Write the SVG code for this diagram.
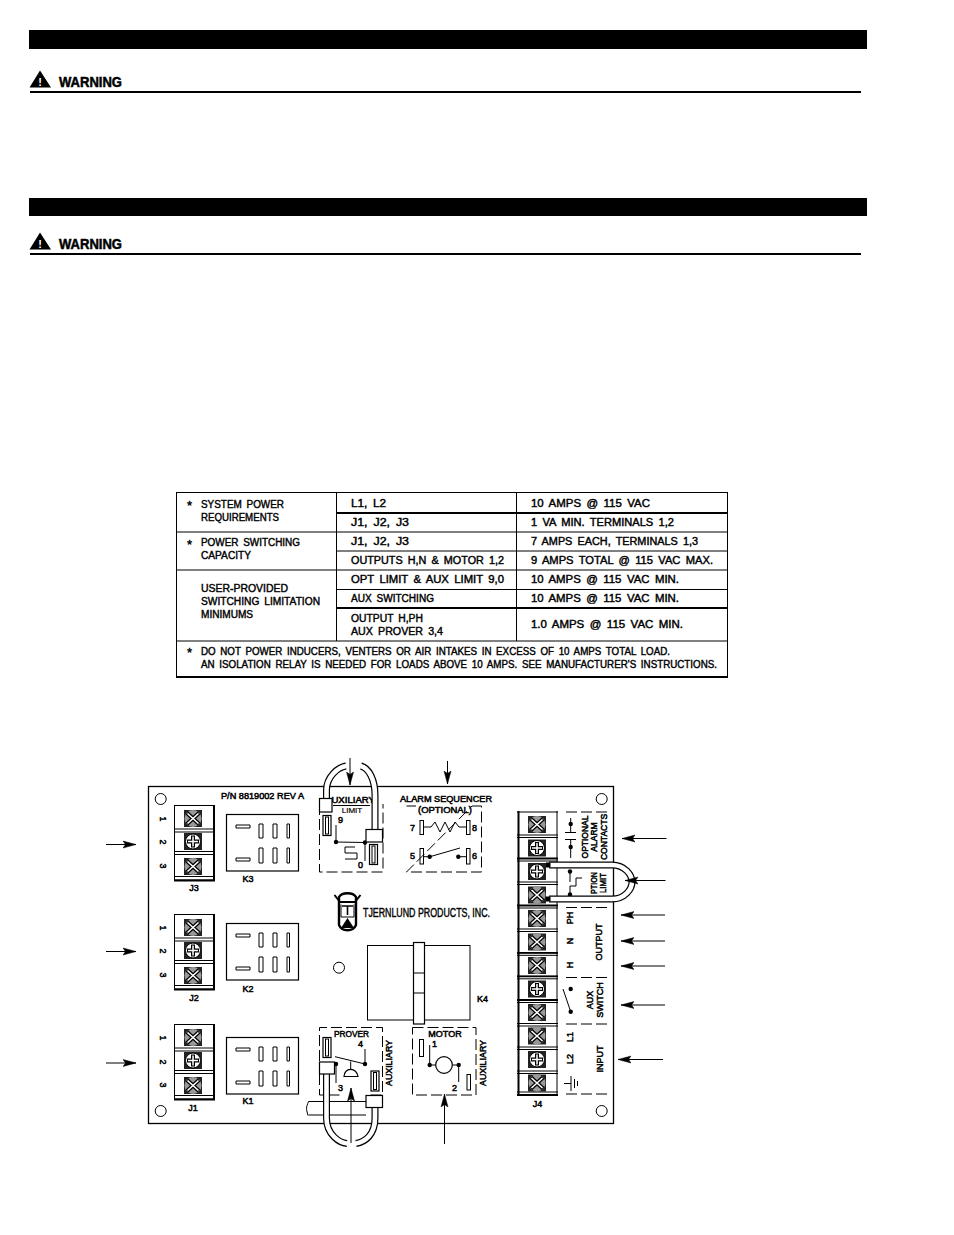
<svg xmlns="http://www.w3.org/2000/svg" xmlns:xlink="http://www.w3.org/1999/xlink" width="954" height="1235" viewBox="0 0 954 1235">
<style>
text{font-family:"Liberation Sans",Arial,sans-serif;fill:#000;font-size:10px;stroke:#000;stroke-width:.4px}
.b{font-weight:700;stroke:none}
.w{font-size:14px;font-weight:700;stroke:#000;stroke-width:.5px}
.s{font-size:9px;stroke-width:.5px}
.m{text-anchor:middle}
.ln{fill:none;stroke:#000;stroke-width:1}
.th{fill:none;stroke:#000;stroke-width:2}
.da{fill:none;stroke:#000;stroke-width:1;stroke-dasharray:11 4}
.wb{fill:#fff;stroke:#000;stroke-width:1.2}
.ot{fill:none;stroke:#000;stroke-width:7}
.in{fill:none;stroke:#fff;stroke-width:4.6}
.ar{fill:none;stroke:#000;stroke-width:1;marker-end:url(#ah)}
#spec-table text{word-spacing:2px}
</style>
<defs>
<marker id="ah" markerUnits="userSpaceOnUse" markerWidth="14" markerHeight="10" refX="13" refY="5" orient="auto"><path d="M0 1.500L13 5L0 8.500L2.500 5Z" fill="#000" stroke="#000" stroke-width=".5"/></marker>
<g id="sx"><rect width="18" height="17" fill="#222"/><circle cx="9" cy="8.500" r="8.500" fill="#999"/><path d="M3 3L15 14M15 3L3 14" stroke="#000" stroke-width="4"/><path d="M3.500 3.500L14.500 13.500M14.500 3.500L3.500 13.500" stroke="#fff" stroke-width="1.600"/></g>
<g id="sp"><rect width="18" height="17" fill="#222"/><circle cx="9" cy="8.500" r="7.500" fill="#fff" stroke="#000"/><path d="M9 2.500V14.500M3 8.500H15" stroke="#000" stroke-width="4"/><path d="M9 3.500V13.500M4 8.500H14" stroke="#fff" stroke-width="1.500"/></g>
<g id="j3b"><path d="M0.500 0V75.500" class="ln"/><path d="M40 0V75.500" class="th"/><path d="M0 .5H41M0 24H41M0 27H41M0 46.500H41M0 49.500H41M0 71.500H41M0 75H41" class="ln"/><path d="M0 75.500H41" class="th"/><use xlink:href="#sx" x="10" y="5"/><use xlink:href="#sp" x="10" y="28"/><use xlink:href="#sx" x="10" y="53"/></g>
<g id="kb"><rect x=".5" y=".5" width="72" height="56.500" class="wb"/><path d="M10 11H24V14H10ZM10 44H24V47H10ZM33 10H37V24H33ZM47 10H51V24H47ZM61 10H63.500V24H61ZM33 34H37V49H33ZM47 34H51V49H47ZM61 34H63.500V49H61Z" class="ln"/></g>
<g id="hole"><circle r="5.500" class="ln"/></g>
<g id="dot"><circle r="2.200" fill="#000"/></g>
<g id="ft"><rect x="0" y="0" width="8" height="20" class="wb"/><rect x="2.500" y="1.500" width="3" height="17" class="ln"/></g>
</defs>
<rect width="954" height="1235" fill="#fff"/>

<g id="header-1"><rect x="29" y="30" width="838" height="19" fill="#000"/>
<path d="M40 70.500L51 87.500H29.500Z" fill="#000"/><text class="b" x="40" y="86" style="fill:#fff;font-size:11px" text-anchor="middle">!</text>
<text class="w" x="59" y="86.500" textLength="63" lengthAdjust="spacingAndGlyphs">WARNING</text>
<path d="M30 92H861" class="th"/></g>
<g id="header-2"><rect x="29" y="198" width="838" height="18" fill="#000"/>
<path d="M40 232.500L51 249.500H29.500Z" fill="#000"/><text class="b" x="40" y="248" style="fill:#fff;font-size:11px" text-anchor="middle">!</text>
<text class="w" x="59" y="248.500" textLength="63" lengthAdjust="spacingAndGlyphs">WARNING</text>
<path d="M30 254H861" class="th"/></g>

<g id="spec-table">
<rect x="176.500" y="492.500" width="551" height="184.500" class="ln"/>
<path d="M176 677H728" class="th"/>
<path d="M336.500 492V641M516.500 492V641" class="ln"/>
<path d="M176 532H728M176 570H728M336 551H728M336 589.500H728M176 641H728" class="ln"/>
<path d="M336 513H728M336 608H728" class="th"/>
<text x="187" y="510" style="font-size:13px">*</text><text x="187" y="549" style="font-size:13px">*</text><text x="187" y="657" style="font-size:13px">*</text>
<text x="201" y="508" textLength="83" lengthAdjust="spacingAndGlyphs">SYSTEM POWER</text>
<text x="201" y="521" textLength="78" lengthAdjust="spacingAndGlyphs">REQUIREMENTS</text>
<text x="201" y="546" textLength="99" lengthAdjust="spacingAndGlyphs">POWER SWITCHING</text>
<text x="201" y="559" textLength="50" lengthAdjust="spacingAndGlyphs">CAPACITY</text>
<text x="201" y="592" textLength="87" lengthAdjust="spacingAndGlyphs">USER-PROVIDED</text>
<text x="201" y="605" textLength="119" lengthAdjust="spacingAndGlyphs">SWITCHING LIMITATION</text>
<text x="201" y="618" textLength="52" lengthAdjust="spacingAndGlyphs">MINIMUMS</text>
<text x="351" y="507" textLength="35" lengthAdjust="spacingAndGlyphs">L1, L2</text>
<text x="351" y="526" textLength="58" lengthAdjust="spacingAndGlyphs">J1, J2, J3</text>
<text x="351" y="545" textLength="58" lengthAdjust="spacingAndGlyphs">J1, J2, J3</text>
<text x="351" y="564" textLength="153" lengthAdjust="spacingAndGlyphs">OUTPUTS H,N &amp; MOTOR 1,2</text>
<text x="351" y="583" textLength="153" lengthAdjust="spacingAndGlyphs">OPT LIMIT &amp; AUX LIMIT 9,0</text>
<text x="351" y="602" textLength="83" lengthAdjust="spacingAndGlyphs">AUX SWITCHING</text>
<text x="351" y="622" textLength="72" lengthAdjust="spacingAndGlyphs">OUTPUT H,PH</text>
<text x="351" y="635" textLength="92" lengthAdjust="spacingAndGlyphs">AUX PROVER 3,4</text>
<text x="531" y="507" textLength="119" lengthAdjust="spacingAndGlyphs">10 AMPS @ 115 VAC</text>
<text x="531" y="526" textLength="143" lengthAdjust="spacingAndGlyphs">1 VA MIN. TERMINALS 1,2</text>
<text x="531" y="545" textLength="167" lengthAdjust="spacingAndGlyphs">7 AMPS EACH, TERMINALS 1,3</text>
<text x="531" y="564" textLength="182" lengthAdjust="spacingAndGlyphs">9 AMPS TOTAL @ 115 VAC MAX.</text>
<text x="531" y="583" textLength="148" lengthAdjust="spacingAndGlyphs">10 AMPS @ 115 VAC MIN.</text>
<text x="531" y="602" textLength="148" lengthAdjust="spacingAndGlyphs">10 AMPS @ 115 VAC MIN.</text>
<text x="531" y="628" textLength="152" lengthAdjust="spacingAndGlyphs">1.0 AMPS @ 115 VAC MIN.</text>
<text x="201" y="655" textLength="469" lengthAdjust="spacingAndGlyphs">DO NOT POWER INDUCERS, VENTERS OR AIR INTAKES IN EXCESS OF 10 AMPS TOTAL LOAD.</text>
<text x="201" y="668" textLength="516" lengthAdjust="spacingAndGlyphs">AN ISOLATION RELAY IS NEEDED FOR LOADS ABOVE 10 AMPS.  SEE MANUFACTURER'S INSTRUCTIONS.</text>
</g>

<g id="board">
<rect x="148.500" y="786.500" width="465" height="337" class="ln" style="stroke-width:1.300"/>
<use xlink:href="#hole" x="160.700" y="799"/><use xlink:href="#hole" x="601.700" y="799"/><use xlink:href="#hole" x="160.700" y="1111"/><use xlink:href="#hole" x="601.700" y="1111"/><use xlink:href="#hole" x="339" y="967.700"/>
<text x="221" y="799" textLength="83" lengthAdjust="spacingAndGlyphs" class="s">P/N 8819002 REV A</text>
</g>

<g id="J3"><use xlink:href="#j3b" x="174" y="805"/>
<text class="s" transform="translate(160 819) rotate(90)" text-anchor="middle">1</text><text class="s" transform="translate(160 842) rotate(90)" text-anchor="middle">2</text><text class="s" transform="translate(160 866) rotate(90)" text-anchor="middle">3</text>
<text class="s m" x="194" y="891">J3</text></g>
<g id="J2"><use xlink:href="#j3b" x="174" y="914"/>
<text class="s" transform="translate(160 928) rotate(90)" text-anchor="middle">1</text><text class="s" transform="translate(160 951) rotate(90)" text-anchor="middle">2</text><text class="s" transform="translate(160 975) rotate(90)" text-anchor="middle">3</text>
<text class="s m" x="194" y="1001">J2</text></g>
<g id="J1"><use xlink:href="#j3b" x="174" y="1024"/>
<text class="s" transform="translate(160 1038) rotate(90)" text-anchor="middle">1</text><text class="s" transform="translate(160 1062) rotate(90)" text-anchor="middle">2</text><text class="s" transform="translate(160 1085) rotate(90)" text-anchor="middle">3</text>
<text class="s m" x="193" y="1111">J1</text></g>
<g id="K3"><use xlink:href="#kb" x="226" y="814"/><text class="s m" x="248" y="882">K3</text></g>
<g id="K2"><use xlink:href="#kb" x="226" y="923"/><text class="s m" x="248" y="992">K2</text></g>
<g id="K1"><use xlink:href="#kb" x="226" y="1037"/><text class="s m" x="248" y="1104">K1</text></g>

<g id="K4"><rect x="367.500" y="945.500" width="102.500" height="74.500" class="ln"/><rect x="413.500" y="942.500" width="11" height="81.500" class="wb"/><path d="M413 973H424M413 993H424" class="ln"/><text class="s" x="477" y="1002">K4</text></g>

<g id="logo">
<path d="M339 897C342 892 353 892 356 897V925C353 932 342 932 339 925Z" fill="#fff" stroke="#000" stroke-width="2.400"/>
<path d="M334.500 895L340 902H355L360.500 895" fill="none" stroke="#000" stroke-width="2"/>
<path d="M342 906H353M347.500 906V915" fill="none" stroke="#000" stroke-width="1.600"/>
<path d="M341 904.500V917H354V904.500" class="ln"/><path d="M341 928L347.500 918L354 928Z" fill="#000"/>
<text x="363" y="917" textLength="127" lengthAdjust="spacingAndGlyphs" style="font-size:12px">TJERNLUND PRODUCTS, INC.</text></g>

<g id="aux-limit">
<path d="M319.500 804V872H383V804" class="da"/><path d="M333 805.500H370" class="ln"/>
<text class="s" x="325" y="803" textLength="50" lengthAdjust="spacingAndGlyphs">AUXILIARY</text><text class="s m" x="352" y="813" style="font-size:8px;stroke-width:.2px">LIMIT</text>
<use xlink:href="#ft" x="323" y="815.500"/><use xlink:href="#ft" x="369.500" y="844.500"/>
<path d="M336 842L365 842.500M336 842V825M365 842.500V861M355 847H345V853H357V859H345" class="ln"/><use xlink:href="#dot" x="336" y="842"/><use xlink:href="#dot" x="365" y="842.500"/>
<text class="s" x="338" y="823">9</text><text class="s" x="358" y="868">0</text>
<path d="M326.500 799V790C326.500 777 338 767 346 766M361 766C369 768 375 780 375 795V829" class="ot"/><path d="M326.500 799V790C326.500 777 338 767 346.500 766M360.500 766C369 768 375 780 375 795V829" class="in"/>
<rect x="319.500" y="798.500" width="12.500" height="13.500" class="wb"/><rect x="366" y="829.500" width="16.500" height="12.500" class="wb"/>
</g>

<g id="alarm-sequencer">
<text class="s" x="400" y="802" textLength="92" lengthAdjust="spacingAndGlyphs">ALARM SEQUENCER</text><text class="s" x="418" y="813" textLength="54" lengthAdjust="spacingAndGlyphs">(OPTIONAL)</text>
<path d="M406.500 806H416M472 806H481.500V872H406.500Z" class="da"/>
<rect x="420" y="820.500" width="3.500" height="14" class="ln"/><rect x="466.500" y="820.500" width="3.500" height="14" class="ln"/><rect x="420" y="848.500" width="3.500" height="15.500" class="ln"/><rect x="466.500" y="848.500" width="3.500" height="15.500" class="ln"/>
<path d="M423.500 827H431L435 822L440 832L445 822L450 832L455 822L459 827H466.500" class="ln"/>
<path d="M423.500 856.700H430L460 848M458 856.700H466.500" class="ln"/><use xlink:href="#dot" x="429.700" y="856.700"/><use xlink:href="#dot" x="458.300" y="856.700"/>
<text class="s" x="410" y="831">7</text><text class="s" x="472" y="831">8</text><text class="s" x="410" y="859">5</text><text class="s" x="472" y="859">6</text>
</g>

<g id="J4">
<path d="M518.500 811V1095" class="th"/><path d="M557 811V1095" class="ln"/>
<path d="M517 812H558M517 835H558M517 837.500H558M517 858.500H558M517 861H558M517 882H558M517 884.500H558M517 905.500H558M517 908H558M517 929H558M517 931.500H558M517 952.800H558M517 955.300H558M517 976.300H558M517 978.800H558M517 1000H558M517 1002.500H558M517 1023.500H558M517 1026H558M517 1047H558M517 1049.500H558M517 1071H558M517 1073.500H558M517 1092H558" class="ln"/><path d="M517 1095H558" class="th"/>
<path d="M517 858.500H558M517 905.500H558M517 952.800H558M517 976.300H558M517 1000H558" class="ln" style="stroke-width:1.800"/>
<use xlink:href="#sx" x="528" y="816"/><use xlink:href="#sp" x="528" y="839.500"/><use xlink:href="#sp" x="528" y="863"/><use xlink:href="#sx" x="528" y="886.500"/><use xlink:href="#sx" x="528" y="910"/><use xlink:href="#sx" x="528" y="933.500"/><use xlink:href="#sx" x="528" y="957"/><use xlink:href="#sp" x="528" y="980.500"/><use xlink:href="#sx" x="528" y="1004"/><use xlink:href="#sx" x="528" y="1027.500"/><use xlink:href="#sp" x="528" y="1051"/><use xlink:href="#sx" x="528" y="1074.500"/>
<text class="s m" x="537.500" y="1107">J4</text>
</g>

<g id="alarm-contacts">
<path d="M566 812H611M566 907.500H611M566 977.500H611M566 1024H611M566 1094H611" class="da"/>
<path d="M570.700 818V832.500M565 832.500H576M565 839.500H576M570.700 839.500V858" class="ln"/><use xlink:href="#dot" x="570.700" y="824"/><use xlink:href="#dot" x="570.700" y="847"/>
<text class="s" style="font-size:8.500px" transform="translate(588 837) rotate(-90)" text-anchor="middle">OPTIONAL</text>
<text class="s" style="font-size:8.500px" transform="translate(597 837) rotate(-90)" text-anchor="middle">ALARM</text>
<text class="s" style="font-size:8.500px" transform="translate(607 837) rotate(-90)" text-anchor="middle">CONTACTS</text>
</g>

<g id="option-limit">
<path d="M570 871V882M570 895V886H576V878H582" class="ln"/><use xlink:href="#dot" x="570" y="871.500"/><use xlink:href="#dot" x="570" y="894.500"/>
<text class="s" transform="translate(597 883) rotate(-90)" text-anchor="middle" textLength="22" lengthAdjust="spacingAndGlyphs">PTION</text><text class="s" transform="translate(606 883) rotate(-90)" text-anchor="middle" textLength="20" lengthAdjust="spacingAndGlyphs">LIMIT</text>
<path d="M549 865H612C625 865 632 875 632 882C632 889 625 899 612 899H549" class="ot"/><path d="M549 865H612C625 865 632 875 632 882C632 889 625 899 612 899H549" class="in"/>
<rect x="546" y="862.500" width="4.500" height="5" fill="#000"/><rect x="546" y="896.500" width="4.500" height="5" fill="#000"/>
</g>

<g id="output">
<text class="s" transform="translate(573 918) rotate(-90)" text-anchor="middle">PH</text>
<text class="s" transform="translate(573 941) rotate(-90)" text-anchor="middle">N</text>
<text class="s" transform="translate(573 965) rotate(-90)" text-anchor="middle">H</text>
<text class="s" transform="translate(602 942) rotate(-90)" text-anchor="middle">OUTPUT</text>
</g>
<g id="aux-switch">
<path d="M570.700 1011.700L563 989" class="ln"/><use xlink:href="#dot" x="570.700" y="989"/><use xlink:href="#dot" x="570.700" y="1011.700"/>
<text class="s" transform="translate(593 1000) rotate(-90)" text-anchor="middle">AUX</text><text class="s" transform="translate(603 1000) rotate(-90)" text-anchor="middle">SWITCH</text>
</g>
<g id="input">
<text class="s" transform="translate(573 1037) rotate(-90)" text-anchor="middle">L1</text><text class="s" transform="translate(573 1059) rotate(-90)" text-anchor="middle">L2</text>
<path d="M564 1083.500H571M571 1076V1091M574.500 1079V1088M577.500 1081V1086" class="ln"/>
<text class="s" transform="translate(603 1059) rotate(-90)" text-anchor="middle">INPUT</text>
</g>

<g id="motor">
<path d="M412.500 1027.500H476V1095H412.500Z" class="da"/>
<rect x="419.500" y="1039.500" width="4" height="17" class="ln"/><rect x="467" y="1074.500" width="3.500" height="15.500" class="ln"/>
<path d="M429.700 1065V1045M458.700 1065V1082M429.700 1065H436M452 1065H458.700" class="ln"/><circle cx="444" cy="1065" r="8.300" class="wb"/><use xlink:href="#dot" x="429.700" y="1065"/><use xlink:href="#dot" x="458.700" y="1065"/>
<text class="s m" x="445" y="1037">MOTOR</text><text class="s" x="432" y="1047">1</text><text class="s" x="452" y="1091">2</text>
<text class="s" transform="translate(486 1063) rotate(-90)" text-anchor="middle" textLength="46" lengthAdjust="spacingAndGlyphs">AUXILIARY</text>
</g>

<g id="prover">
<path d="M308 1115.500C306 1108 306 1108 308.500 1101.500H366" class="ln"/><path d="M308.500 1115H366" class="ln"/>
<path d="M319.500 1061V1027.500H382.500V1095H368M319.500 1074V1095H340" class="da"/>
<use xlink:href="#ft" x="323" y="1037.500"/><use xlink:href="#ft" x="371" y="1071"/>
<path d="M335 1056.700L365 1064M365 1064V1049M336 1064V1083M350.700 1061.500V1071" class="ln"/><path d="M344 1076.500C345 1067 356 1067 358 1076.500Z" class="wb"/><use xlink:href="#dot" x="336" y="1064"/><use xlink:href="#dot" x="365" y="1064"/>
<text class="s" x="334" y="1037" textLength="35" lengthAdjust="spacingAndGlyphs">PROVER</text><text class="s" x="358" y="1047">4</text><text class="s" x="338" y="1091">3</text>
<text class="s" transform="translate(392 1063) rotate(-90)" text-anchor="middle" textLength="46" lengthAdjust="spacingAndGlyphs">AUXILIARY</text>
<path d="M326.500 1074V1118C326.500 1135 340 1143 347 1143.500M356 1143.500C365 1142 375 1135 375 1118V1107" class="ot"/><path d="M326.500 1074V1118C326.500 1135 340 1143 347.500 1143.500M355.500 1143.500C365 1142 375 1135 375 1118V1107" class="in"/>
<rect x="319.500" y="1062" width="15" height="12" class="wb"/><rect x="366" y="1095.500" width="16.500" height="12" class="wb"/>
</g>

<g id="connectors">
<path d="M106 844.500H136" class="ar"/><path d="M106 951.500H136" class="ar"/><path d="M106 1063H136" class="ar"/>
<path d="M350 758V785" class="ar"/><path d="M447.500 761V784" class="ar"/>
<path d="M666.500 838.500H622" class="ar"/><path d="M665.500 880.500H625" class="ar"/><path d="M665 915H621" class="ar"/><path d="M665 941H621" class="ar"/><path d="M665 966H621" class="ar"/><path d="M665 1005H621" class="ar"/><path d="M663 1059.500H618" class="ar"/>
<path d="M444.500 1144V1094" class="ar"/><path d="M351 1143V1088" class="ar"/>
</g>
</svg>
